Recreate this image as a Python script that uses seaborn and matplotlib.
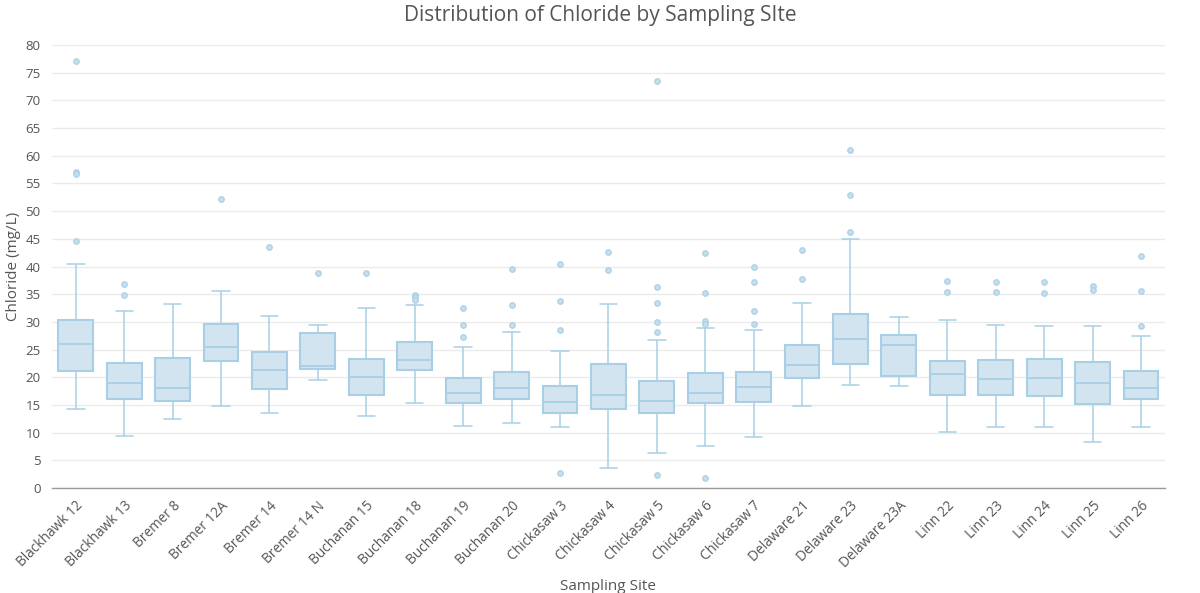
import pandas as pd
import matplotlib
matplotlib.use("Agg")
import matplotlib.pyplot as plt
import seaborn as sns

# Sampling sites (x-axis order)
sites = ["Blackhawk 12", "Blackhawk 13", "Bremer 8", "Bremer 12A", "Bremer 14",
         "Bremer 14 N", "Buchanan 15", "Buchanan 18", "Buchanan 19", "Buchanan 20",
         "Chickasaw 3", "Chickasaw 4", "Chickasaw 5", "Chickasaw 6", "Chickasaw 7",
         "Delaware 21", "Delaware 23", "Delaware 23A", "Linn 22", "Linn 23",
         "Linn 24", "Linn 25", "Linn 26"]

# Box summaries (mg/L)
whisker_low = [14.3, 9.4, 12.5, 14.9, 13.5, 19.5, 13.1, 15.3, 11.2, 11.7,
               11.0, 3.7, 6.3, 7.6, 9.3, 14.8, 18.6, 18.4, 10.1, 11.0,
               11.0, 8.4, 11.0]
q1 = [21.2, 16.1, 15.8, 23.0, 17.8, 21.5, 16.8, 21.4, 15.3, 16.0,
      13.6, 14.3, 13.6, 15.3, 15.5, 19.8, 22.4, 20.3, 16.8, 16.8,
      16.7, 15.1, 16.0]
median = [26.0, 18.9, 18.0, 25.4, 21.3, 22.0, 20.0, 23.1, 17.1, 18.1,
          15.5, 16.8, 15.7, 17.1, 18.2, 22.2, 26.9, 25.9, 20.6, 19.7,
          19.8, 18.9, 18.0]
q3 = [30.4, 22.6, 23.4, 29.7, 24.5, 28.0, 23.3, 26.3, 19.8, 20.9,
      18.5, 22.4, 19.4, 20.8, 20.9, 25.8, 31.5, 27.7, 23.0, 23.2,
      23.3, 22.7, 21.2]
whisker_high = [40.5, 31.9, 33.2, 35.6, 31.0, 29.4, 32.5, 33.0, 25.5, 28.1,
                24.7, 33.3, 26.8, 28.9, 28.6, 33.5, 44.9, 30.9, 30.4, 29.4,
                29.2, 29.2, 27.5]

# Outliers per site
outliers = {
    "Blackhawk 12": [77.2, 57.0, 56.7, 44.7],
    "Blackhawk 13": [36.9, 34.9],
    "Bremer 12A": [52.2],
    "Bremer 14": [43.5],
    "Bremer 14 N": [38.9],
    "Buchanan 15": [38.9],
    "Buchanan 18": [34.8, 34.5, 34.0],
    "Buchanan 19": [32.6, 29.5, 27.3],
    "Buchanan 20": [39.5, 33.0, 29.5],
    "Chickasaw 3": [40.4, 33.7, 28.6, 2.8],
    "Chickasaw 4": [42.6, 39.3],
    "Chickasaw 5": [73.6, 36.3, 33.4, 29.9, 28.2, 2.3],
    "Chickasaw 6": [42.5, 35.2, 30.2, 29.6, 1.9],
    "Chickasaw 7": [39.9, 37.2, 31.9, 29.7],
    "Delaware 21": [42.9, 37.7],
    "Delaware 23": [61.1, 52.9, 46.2],
    "Linn 22": [37.4, 35.4],
    "Linn 23": [37.2, 35.4],
    "Linn 24": [37.2, 35.3],
    "Linn 25": [36.5, 35.7],
    "Linn 26": [41.9, 35.5, 29.3],
}

box_rows = []
for i, s in enumerate(sites):
    for v in (whisker_low[i], q1[i], median[i], q3[i], whisker_high[i]):
        box_rows.append((s, v))
df_box = pd.DataFrame(box_rows, columns=["Site", "Chloride"])
df_out = pd.DataFrame([(s, v) for s, vals in outliers.items() for v in vals],
                      columns=["Site", "Chloride"])

sns.set_style("white")
plt.rcParams["font.family"] = ["Open Sans", "DejaVu Sans"]

fill_c = "#d2e4f0"
line_c = "#a9cfe4"
text_c = "#555555"

fig, ax = plt.subplots(figsize=(12, 5.93), dpi=100)
fig.subplots_adjust(left=0.043, right=0.971, top=0.924, bottom=0.177)

ax.yaxis.grid(True, color="#ebebeb", linewidth=1)
ax.set_axisbelow(True)

sns.boxplot(data=df_box, x="Site", y="Chloride", order=sites, whis=(0, 100),
            width=0.72, showfliers=False, linewidth=1,
            boxprops=dict(facecolor=fill_c, edgecolor=line_c, linewidth=1.5),
            medianprops=dict(color=line_c, linewidth=1.3),
            whiskerprops=dict(color=line_c, linewidth=1.1),
            capprops=dict(color=line_c, linewidth=1.1), ax=ax)

sns.stripplot(data=df_out, x="Site", y="Chloride", order=sites, jitter=False,
              size=4, color="#c6dded", edgecolor=line_c, linewidth=0.8, ax=ax)

ax.set_ylim(0, 80)
ax.set_yticks(range(0, 81, 5))
ax.set_xlim(-0.5, len(sites) - 0.5)

for side in ["top", "right", "left"]:
    ax.spines[side].set_visible(False)
ax.spines["bottom"].set_color("#9a9a9a")
ax.spines["bottom"].set_linewidth(1)

ax.tick_params(axis="y", length=0, labelsize=9.5, labelcolor=text_c, pad=8)
ax.tick_params(axis="x", length=4, width=1, color="#9a9a9a",
               labelsize=9.8, labelcolor=text_c)
plt.setp(ax.get_xticklabels(), rotation=45, ha="right", rotation_mode="anchor")

ax.set_xlabel("Sampling Site", fontsize=11, color=text_c, labelpad=6)
ax.set_ylabel("Chloride (mg/L)", fontsize=11, color=text_c, labelpad=3)
fig.suptitle("Distribution of Chloride by Sampling SIte", fontsize=15,
             color=text_c, x=0.5, y=0.992)

fig.savefig("out.png", dpi=100)
